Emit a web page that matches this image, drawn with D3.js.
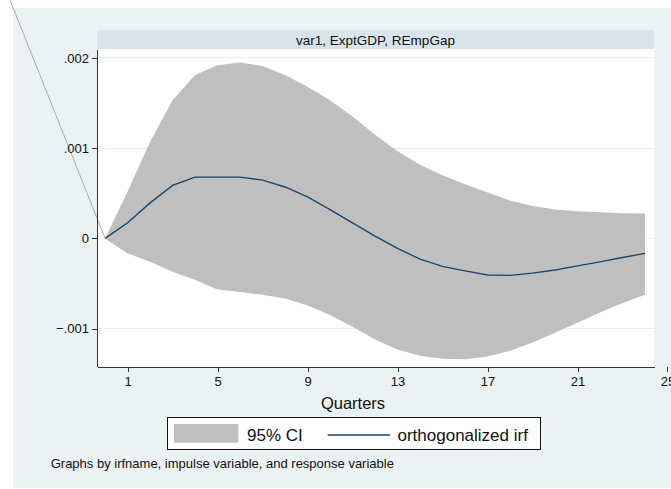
<!DOCTYPE html>
<html lang="en">

<head>
  <meta charset="utf-8">
  <title>IRF: var1, ExptGDP, REmpGap</title>
  <script src="https://cdn.jsdelivr.net/npm/d3@7"></script>
  <style>
    body {
      margin: 0;
      background: white;
    }

    text {
      font-family: "Liberation Sans", Arial, sans-serif;
      fill: #111;
    }

    .axis path,
    .axis line {
      stroke: #333;
      shape-rendering: crispEdges;
    }

    .axis text {
      font-size: 13px;
      fill: #111;
    }

    .grid {
      stroke: #e6eff1;
      shape-rendering: crispEdges;
    }
  </style>
</head>

<body>
  <div id="chart"></div>

  <script>
    // response step (quarters after the shock)
    var steps = d3.range(0, 25);

    // orthogonalized irf
    var irf = [0, .000173, .000394, .000587, .000679, .000679, .000679, .000646, .00057,
      .00046, .00032, .000173, .000025, -.00011, -.00023, -.00031, -.00036, -.000405,
      -.00041, -.000385, -.00035, -.000305, -.00026, -.000212, -.000166];

    // 95% CI bounds
    var ciUpper = [0, .00052, .00107, .00153, .00181, .00192, .00195, .00191, .00181,
      .00168, .00153, .00135, .00115, .000965, .000815, .0007, .0006, .00051,
      .00042, .00036, .00032, .0003, .00029, .00028, .000275];
    var ciLower = [0, -.000166, -.00026, -.00037, -.00046, -.000565, -.000595, -.000625, -.000665,
      -.000745, -.00085, -.00098, -.00112, -.00123, -.0013, -.001335, -.00134, -.00131,
      -.001245, -.001155, -.001045, -.000935, -.00082, -.000715, -.000625];

    var xTicks = [1, 5, 9, 13, 17, 21, 25];
    var yTicks = [-.001, 0, .001, .002];

    // stray segment stata left in the export, running off to the top left
    var stray = [[0, 0], [-4.4, .00275]];

    var W = 671, H = 489;
    var plot = {left: 97, right: 654, top: 49.3, bottom: 366.7};

    var svg = d3.select("#chart")
      .append("svg")
        .attr("width", W)
        .attr("height", H);

    // graph region
    svg.append("rect")
      .attr("x", 13).attr("y", 8)
      .attr("width", W - 13).attr("height", 480)
      .attr("fill", "#eaf2f3");

    // by-strip
    svg.append("rect")
      .attr("x", plot.left).attr("y", 30)
      .attr("width", plot.right - plot.left).attr("height", plot.top - 30)
      .attr("fill", "#d9e4ea");
    svg.append("text")
      .attr("x", (plot.left + plot.right) / 2)
      .attr("y", 44.5)
      .attr("text-anchor", "middle")
      .style("font-size", "13.5px")
      .text("var1, ExptGDP, REmpGap");

    // plot region
    svg.append("rect")
      .attr("x", plot.left).attr("y", plot.top)
      .attr("width", plot.right - plot.left).attr("height", plot.bottom - plot.top)
      .attr("fill", "white");

    var x = d3.scaleLinear()
      .domain([-0.36, 24.4])
      .range([plot.left, plot.right]);

    var y = d3.scaleLinear()
      .domain([-.001422, .002096])
      .range([plot.bottom, plot.top]);

    svg.selectAll("line.grid")
      .data(yTicks)
      .enter()
      .append("line")
        .attr("class", "grid")
        .attr("x1", plot.left)
        .attr("x2", plot.right)
        .attr("y1", function(d) { return y(d); })
        .attr("y2", function(d) { return y(d); });

    var area = d3.area()
      .x(function(d, i) { return x(steps[i]); })
      .y0(function(d, i) { return y(ciLower[i]); })
      .y1(function(d, i) { return y(ciUpper[i]); });

    svg.append("path")
      .datum(ciUpper)
      .attr("fill", "#bfbfbf")
      .attr("d", area);

    var line = d3.line()
      .x(function(d, i) { return x(steps[i]); })
      .y(function(d) { return y(d); });

    svg.append("path")
      .datum(irf)
      .attr("fill", "none")
      .attr("stroke", "#1a476f")
      .attr("stroke-width", 1.4)
      .attr("d", line);

    svg.append("path")
      .datum(stray)
      .attr("fill", "none")
      .attr("stroke", "#a9a9a9")
      .attr("stroke-width", 1)
      .attr("d", d3.line()
        .x(function(d) { return x(d[0]); })
        .y(function(d) { return y(d[1]); }));

    var fmt = function(d) {
      return d === 0 ? "0" : d3.format(".3f")(d).replace("0.", ".");
    };

    svg.append("g")
      .attr("class", "axis")
      .attr("transform", "translate(0," + plot.bottom + ")")
      .call(d3.axisBottom(x)
        .tickValues(xTicks)
        .tickSize(5)
        .tickSizeOuter(0)
        .tickPadding(5.5)
        .tickFormat(d3.format("d")));

    svg.append("g")
      .attr("class", "axis")
      .attr("transform", "translate(" + plot.left + ",0)")
      .call(d3.axisLeft(y)
        .tickValues(yTicks)
        .tickSize(5)
        .tickSizeOuter(0)
        .tickPadding(3)
        .tickFormat(fmt));

    svg.selectAll(".axis text").attr("font-family", null);

    svg.append("text")
      .attr("x", 353)
      .attr("y", 408.5)
      .attr("text-anchor", "middle")
      .style("font-size", "16.5px")
      .text("Quarters");

    // legend
    var lg = svg.append("g");
    lg.append("rect")
      .attr("x", 167.5).attr("y", 417.5)
      .attr("width", 373).attr("height", 32)
      .attr("fill", "white")
      .attr("stroke", "#111");
    lg.append("rect")
      .attr("x", 174).attr("y", 424)
      .attr("width", 64.3).attr("height", 18.7)
      .attr("fill", "#bfbfbf");
    lg.append("text")
      .attr("x", 247).attr("y", 441)
      .style("font-size", "17px")
      .text("95% CI");
    lg.append("line")
      .attr("x1", 327.7).attr("x2", 390)
      .attr("y1", 435).attr("y2", 435)
      .attr("stroke", "#1a476f")
      .attr("stroke-width", 1.4);
    lg.append("text")
      .attr("x", 397.5).attr("y", 441)
      .style("font-size", "17px")
      .text("orthogonalized irf");

    svg.append("text")
      .attr("x", 50.7).attr("y", 468)
      .style("font-size", "13px")
      .text("Graphs by irfname, impulse variable, and response variable");
  </script>
</body>

</html>
